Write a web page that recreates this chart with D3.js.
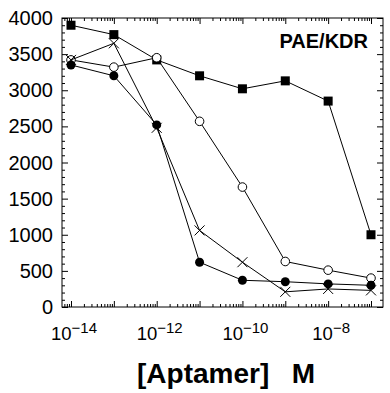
<!DOCTYPE html>
<html lang="en">
<head>
<meta charset="UTF-8">
<title>PAE/KDR aptamer</title>
<script src="https://d3js.org/d3.v7.min.js"></script>
<style>
  body { margin: 0; background: #fff; }
  svg text { font-family: "Liberation Sans", Arial, Helvetica, sans-serif; fill: #000; }
  .axis path, .axis line { stroke: #000; stroke-width: 1; }
</style>
</head>
<body>
<svg width="390" height="393"></svg>
<script>
// concentrations (M), as powers of ten
const exponents = [-14, -13, -12, -11, -10, -9, -8, -7];
// four aptamer series
const filledSquare = [3900, 3770, 3420, 3200, 3020, 3130, 2850, 1000];
const openCircle   = [3420, 3320, 3450, 2570, 1660, 630, 510, 400];
const filledCircle = [3350, 3200, 2520, 620, 370, 350, 320, 300];
const crossMark    = [3420, 3650, 2480, 1060, 620, 210, 250, 230];
const yTicks = [0, 500, 1000, 1500, 2000, 2500, 3000, 3500, 4000];
const xLabelExps = [-14, -12, -10, -8];

const svg = d3.select("svg");
const pLeft = 62, pRight = 383, pTop = 18, pBottom = 307;

const x = d3.scaleLog().domain([Math.pow(10, -14.21), Math.pow(10, -6.72)]).range([pLeft, pRight]);
const y = d3.scaleLinear().domain([0, 4000]).range([pBottom, pTop]);

// minor/major tick values
const xMajor = d3.range(-14, -6).map(e => Math.pow(10, e));
const xMinor = [];
d3.range(-15, -6).forEach(e => {
  for (let k = 2; k <= 9; k++) {
    const v = k * Math.pow(10, e);
    if (v > x.domain()[0] && v < x.domain()[1]) xMinor.push(v);
  }
});
const yMinor = d3.range(0, 4001, 100).filter(v => v % 500 !== 0);

// frame
svg.append("rect")
  .attr("x", pLeft).attr("y", pTop)
  .attr("width", pRight - pLeft).attr("height", pBottom - pTop)
  .attr("fill", "none").attr("stroke", "#000");

// ticks, all pointing inward
function ticks(axisFn, scale, vals, size, tr) {
  svg.append("g").attr("class", "axis").attr("transform", tr)
    .call(axisFn(scale).tickValues(vals).tickSize(-size).tickFormat(""))
    .call(g => g.select(".domain").remove());
}
ticks(d3.axisBottom, x, xMajor, 6, `translate(0,${pBottom})`);
ticks(d3.axisBottom, x, xMinor, 3, `translate(0,${pBottom})`);
ticks(d3.axisTop, x, xMajor, 6, `translate(0,${pTop})`);
ticks(d3.axisTop, x, xMinor, 3, `translate(0,${pTop})`);
ticks(d3.axisLeft, y, yTicks, 6, `translate(${pLeft},0)`);
ticks(d3.axisLeft, y, yMinor, 3, `translate(${pLeft},0)`);
ticks(d3.axisRight, y, yTicks, 6, `translate(${pRight},0)`);
ticks(d3.axisRight, y, yMinor, 3, `translate(${pRight},0)`);

// y labels
svg.append("g").selectAll("text").data(yTicks).join("text")
  .attr("x", pLeft - 9).attr("y", d => y(d) + 7)
  .attr("text-anchor", "end")
  .style("font-size", "20px")
  .text(d => d);

// x labels: 10^n
const xl = svg.append("g").selectAll("text").data(xLabelExps).join("text")
  .attr("x", d => x(Math.pow(10, d)) + 3).attr("y", 340)
  .attr("text-anchor", "middle")
  .style("font-size", "18.5px");
xl.append("tspan").text("10");
xl.append("tspan").attr("dy", -7).style("font-size", "15px").text(d => "\u2212" + Math.abs(d));

// series
const series = [
  { vals: filledSquare, mark: "square" },
  { vals: openCircle, mark: "open" },
  { vals: filledCircle, mark: "dot" },
  { vals: crossMark, mark: "cross" }
];
const line = d3.line().x(d => x(Math.pow(10, d[0]))).y(d => y(d[1]));

series.forEach(s => {
  const pts = exponents.map((e, i) => [e, s.vals[i]]);
  svg.append("path").datum(pts)
    .attr("d", line).attr("fill", "none").attr("stroke", "#000").attr("stroke-width", 1);
  const g = svg.append("g");
  pts.forEach(p => {
    const cx = x(Math.pow(10, p[0])), cy = y(p[1]);
    if (s.mark === "square") {
      g.append("rect").attr("x", cx - 4.5).attr("y", cy - 4.5).attr("width", 9).attr("height", 9).attr("fill", "#000");
    } else if (s.mark === "open") {
      g.append("circle").attr("cx", cx).attr("cy", cy).attr("r", 4.3).attr("fill", "#fff").attr("stroke", "#000");
    } else if (s.mark === "dot") {
      g.append("circle").attr("cx", cx).attr("cy", cy).attr("r", 4.5).attr("fill", "#000");
    } else {
      g.append("path").attr("d", `M${cx-5},${cy-5}L${cx+5},${cy+5}M${cx-5},${cy+5}L${cx+5},${cy-5}`)
        .attr("stroke", "#000").attr("stroke-width", 1);
    }
  });
});

// titles
svg.append("text").attr("x", 368).attr("y", 48).attr("text-anchor", "end")
  .style("font-size", "20px").style("font-weight", "bold").text("PAE/KDR");
svg.append("text").attr("x", 137).attr("y", 383)
  .style("font-size", "28px").style("font-weight", "bold").text("[Aptamer]");
svg.append("text").attr("x", 315).attr("y", 383).attr("text-anchor", "end")
  .style("font-size", "28px").style("font-weight", "bold").text("M");
</script>
</body>
</html>
